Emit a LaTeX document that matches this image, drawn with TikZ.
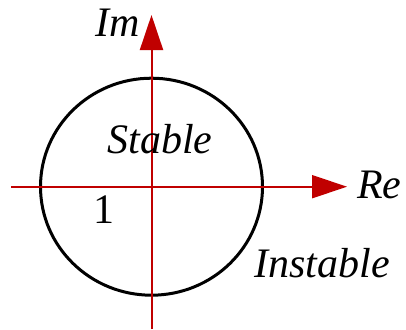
\documentclass[tikz,border=0pt]{standalone}
\usepackage{fontspec}
\setmainfont{Liberation Serif}
\usepackage{xcolor}
\usetikzlibrary{positioning,arrows.meta}
\definecolor{axisred}{HTML}{c00000}
\tikzset{
  every node/.style={font=\fontsize{42}{48}\selectfont\itshape, inner sep=0pt},
  axis/.style={
    -{Triangle[length=35pt,width=23pt]},
    line width=2pt, draw=axisred
  },
  region/.style={draw=black, line width=3pt},
}
\begin{document}
\begin{tikzpicture}[x=1pt, y=-1pt]
  \useasboundingbox (0,0) rectangle (406,329);
  \coordinate (o) at (151.5,186.7);
  \draw[region] (o) ellipse (111 and 108.5);
  \coordinate (reStart) at (11,186.7);
  \coordinate (reEnd) at (347,186.7);
  \coordinate (imStart) at (151.5,329);
  \coordinate (imEnd) at (151.5,15);
  \draw[axis] (reStart) -- (reEnd);
  \draw[axis] (imStart) -- (imEnd);
  \node[anchor=base west] (im) at (95,37) {Im};
  \node[anchor=base west] (re) at (357,198) {Re};
  \node[anchor=base] (stable) at (160,153) {Stable};
  \node[anchor=base, font=\fontsize{42}{48}\selectfont] (one) at (103.5,223) {1};
  \node[anchor=base] (instable) at (322,277) {Instable};
\end{tikzpicture}
\end{document}
